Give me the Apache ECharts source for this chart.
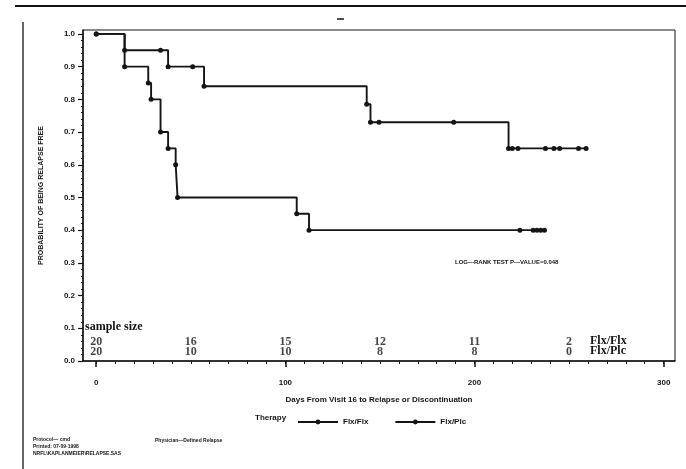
<!DOCTYPE html>
<html>
<head>
<meta charset="utf-8">
<script src="https://cdn.jsdelivr.net/npm/echarts@6/dist/echarts.min.js"></script>
<style>
html,body{margin:0;padding:0;background:#fff}
#chart{width:686px;height:469px}
</style>
</head>
<body>
<div id="chart"></div>
<script>
// Kaplan-Meier curves (day, probability); all points get a marker
var flxDays = [0, 15, 34, 38, 51, 57, 143, 145, 149.5, 189, 218, 220, 223, 237.5, 242, 245, 255, 259];
var flxSurv = [1.0, 0.95, 0.95, 0.90, 0.90, 0.84, 0.785, 0.73, 0.73, 0.73, 0.65, 0.65, 0.65, 0.65, 0.65, 0.65, 0.65, 0.65];
var plcDays = [0, 15, 27.5, 29, 34, 38, 42, 43, 106, 112.5, 224, 231, 233, 235, 237];
var plcSurv = [1.0, 0.90, 0.85, 0.80, 0.70, 0.65, 0.60, 0.50, 0.45, 0.40, 0.40, 0.40, 0.40, 0.40, 0.40];

// numbers at risk
var atRiskDays = [0, 50, 100, 150, 200, 250];
var atRiskFlx = [20, 16, 15, 12, 11, 2];
var atRiskPlc = [20, 10, 10, 8, 8, 0];

// tick labels
var xMajor = [0, 100, 200, 300];
var xMinor = [0,10,20,30,40,50,60,70,80,90,100,110,120,130,140,150,160,170,180,190,200,210,220,230,240,250,260,270,280,290,300];
var yMajor = [0, 0.1, 0.2, 0.3, 0.4, 0.5, 0.6, 0.7, 0.8, 0.9, 1.0];
var yMinor = [0,0.02,0.04,0.06,0.08,0.1,0.12,0.14,0.16,0.18,0.2,0.22,0.24,0.26,0.28,0.3,0.32,0.34,0.36,0.38,0.4,0.42,0.44,0.46,0.48,0.5,0.52,0.54,0.56,0.58,0.6,0.62,0.64,0.66,0.68,0.7,0.72,0.74,0.76,0.78,0.8,0.82,0.84,0.86,0.88,0.9,0.92,0.94,0.96,0.98,1.0];

var ink = '#151515';
var sans = 'Liberation Sans';
var serif = 'Liberation Serif';

function pairs(xs, ys) { return xs.map(function (x, i) { return [x, ys[i]]; }); }

var chart = echarts.init(document.getElementById('chart'));

var kmLine = function (name, xs, ys) {
  return {
    name: name, type: 'line', step: 'end',
    xAxisIndex: 0, yAxisIndex: 0,
    data: pairs(xs, ys),
    symbol: 'circle', symbolSize: 5, showAllSymbol: true,
    itemStyle: {color: ink},
    lineStyle: {color: ink, width: 1.9},
    animation: false, z: 3
  };
};

var riskRow = function (counts, yv) {
  return {
    type: 'scatter', xAxisIndex: 0, yAxisIndex: 0,
    data: atRiskDays.map(function (d, i) { return [d, yv, counts[i]]; }),
    symbolSize: 0, silent: true, animation: false,
    label: {
      show: true, position: 'inside', color: ink,
      fontFamily: serif, fontWeight: 'bold', fontSize: 12,
      formatter: function (p) { return String(p.value[2]); }
    }
  };
};

var option = {
  backgroundColor: '#fff',
  animation: false,
  grid: {left: 83, right: 11, top: 30, bottom: 108, show: true, borderColor: ink, borderWidth: 1},
  xAxis: [{
    type: 'value', min: -7, max: 306,
    name: 'Days From Visit 16 to Relapse or Discontinuation',
    nameLocation: 'middle', nameGap: 35,
    nameTextStyle: {fontFamily: sans, fontWeight: 'bold', fontSize: 8, color: ink},
    splitLine: {show: false},
    axisLine: {onZero: false, lineStyle: {color: ink, width: 1.5}},
    axisTick: {customValues: xMajor, length: 6, lineStyle: {color: ink, width: 1.5}},
    axisLabel: {customValues: xMajor, margin: 18, fontFamily: sans, fontWeight: 'bold', fontSize: 8, color: ink}
  }, {
    type: 'value', min: -7, max: 306, position: 'bottom',
    splitLine: {show: false},
    axisLine: {show: false, onZero: false},
    axisTick: {customValues: xMinor, length: 3, lineStyle: {color: ink, width: 1}},
    axisLabel: {show: false}
  }],
  yAxis: [{
    type: 'value', min: 0, max: 1.012,
    name: 'PROBABILITY OF BEING RELAPSE FREE',
    nameLocation: 'middle', nameGap: 38,
    nameTextStyle: {fontFamily: sans, fontWeight: 'bold', fontSize: 7, color: ink},
    splitLine: {show: false},
    axisLine: {onZero: false, lineStyle: {color: ink, width: 1.5}},
    axisTick: {customValues: yMajor, length: 5, lineStyle: {color: ink, width: 1.2}},
    axisLabel: {customValues: yMajor, margin: 8, fontFamily: sans, fontWeight: 'bold', fontSize: 8, color: ink,
      formatter: function (v) { return v.toFixed(1); }}
  }, {
    type: 'value', min: 0, max: 1.012, position: 'left',
    splitLine: {show: false},
    axisLine: {show: false, onZero: false},
    axisTick: {customValues: yMinor, length: 2, lineStyle: {color: ink, width: 1}},
    axisLabel: {show: false}
  }],
  legend: {
    data: ['Flx/Flx', 'Flx/Plc'],
    left: 292, top: 413,
    itemWidth: 40, itemHeight: 6, itemGap: 26,
    textStyle: {fontFamily: sans, fontWeight: 'bold', fontSize: 8, color: ink}
  },
  graphic: [
    {type: 'line', shape: {x1: 15, y1: 6, x2: 686, y2: 6}, style: {stroke: ink, lineWidth: 2}},
    {type: 'line', shape: {x1: 23, y1: 22, x2: 23, y2: 469}, style: {stroke: ink, lineWidth: 1.3}},
    {type: 'line', shape: {x1: 337, y1: 19, x2: 344, y2: 19}, style: {stroke: ink, lineWidth: 1.5}},
    {type: 'text', left: 255, top: 414, style: {text: 'Therapy', fill: ink, font: 'bold 8px "Liberation Sans"'}},
    {type: 'text', left: 455, top: 259, style: {text: 'LOG—RANK TEST P—VALUE=0.048', fill: ink, font: 'bold 6px "Liberation Sans"'}},
    {type: 'text', left: 85, top: 321, style: {text: 'sample size', fill: ink, font: 'bold 12px "Liberation Serif"'}},
    {type: 'text', left: 590, top: 335, style: {text: 'Flx/Flx', fill: ink, font: 'bold 12px "Liberation Serif"'}},
    {type: 'text', left: 590, top: 345, style: {text: 'Flx/Plc', fill: ink, font: 'bold 12px "Liberation Serif"'}},
    {type: 'text', left: 33, top: 437, style: {text: 'Protocol— cmd', fill: ink, font: 'bold 5px "Liberation Sans"'}},
    {type: 'text', left: 33, top: 444, style: {text: 'Printed: 07-09-1998', fill: ink, font: 'bold 5px "Liberation Sans"'}},
    {type: 'text', left: 33, top: 451, style: {text: 'NRFL\\KAPLANMEIER\\RELAPSE.SAS', fill: ink, font: 'bold 5px "Liberation Sans"'}},
    {type: 'text', left: 155, top: 438, style: {text: 'Physician—Defined Relapse', fill: ink, font: 'bold 5px "Liberation Sans"'}}
  ],
  series: [
    kmLine('Flx/Flx', flxDays, flxSurv),
    kmLine('Flx/Plc', plcDays, plcSurv),
    riskRow(atRiskFlx, 0.058),
    riskRow(atRiskPlc, 0.027)
  ]
};

chart.setOption(option);
</script>
</body>
</html>
